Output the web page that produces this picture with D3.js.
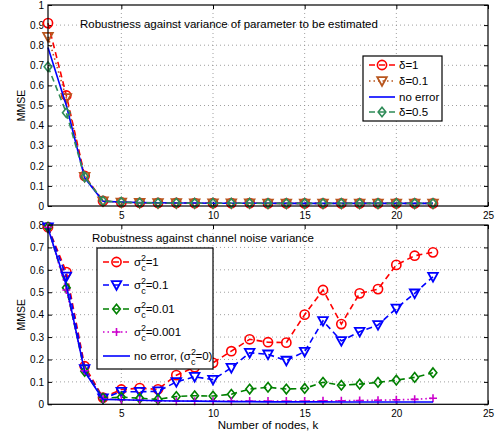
<!DOCTYPE html>
<html>
<head>
<meta charset="utf-8">
<script src="https://cdn.jsdelivr.net/npm/d3@7"></script>
<style>
  body { margin: 0; background: #fff; }
  svg { font-family: "Liberation Sans", Arial, sans-serif; }
</style>
</head>
<body>
<svg width="497" height="434"></svg>
<script>
// number of nodes
const nodes = [1, 2, 3, 4, 5, 6, 7, 8, 9, 10, 11, 12, 13, 14, 15, 16, 17, 18, 19, 20, 21, 22];
const xTicks = [5, 10, 15, 20, 25];

// top panel: robustness against variance of parameter
const delta1 = [0.91, 0.55, 0.15, 0.025, 0.018, 0.016, 0.015, 0.015, 0.014, 0.014, 0.014, 0.014, 0.013, 0.013, 0.013, 0.013, 0.013, 0.013, 0.013, 0.013, 0.013, 0.013];
const delta01 = [0.842, 0.537, 0.146, 0.024, 0.018, 0.016, 0.015, 0.015, 0.014, 0.014, 0.014, 0.014, 0.013, 0.013, 0.013, 0.013, 0.013, 0.013, 0.013, 0.013, 0.013, 0.013];
const noErrTop = [0.788, 0.50, 0.14, 0.024, 0.02, 0.017, 0.016, 0.015, 0.015, 0.014, 0.014, 0.014, 0.014, 0.013, 0.013, 0.013, 0.013, 0.013, 0.013, 0.013, 0.013, 0.013];
const delta05 = [0.693, 0.464, 0.145, 0.025, 0.019, 0.016, 0.015, 0.015, 0.014, 0.014, 0.014, 0.014, 0.013, 0.013, 0.013, 0.013, 0.013, 0.013, 0.013, 0.013, 0.013, 0.013];
const yTicksTop = [0, 0.1, 0.2, 0.3, 0.4, 0.5, 0.6, 0.7, 0.8, 0.9, 1];

// bottom panel: robustness against channel noise variance
const sig1 = [0.79, 0.59, 0.17, 0.03, 0.066, 0.072, 0.067, 0.13, 0.165, 0.185, 0.237, 0.29, 0.277, 0.275, 0.40, 0.51, 0.358, 0.495, 0.514, 0.622, 0.663, 0.678];
const sig01 = [0.79, 0.57, 0.157, 0.027, 0.056, 0.056, 0.058, 0.10, 0.123, 0.11, 0.163, 0.23, 0.223, 0.195, 0.235, 0.372, 0.283, 0.324, 0.354, 0.428, 0.495, 0.569];
const sig001 = [0.79, 0.52, 0.147, 0.027, 0.032, 0.027, 0.022, 0.035, 0.038, 0.037, 0.045, 0.068, 0.076, 0.068, 0.071, 0.098, 0.085, 0.09, 0.098, 0.108, 0.12, 0.141];
const sig0001 = [0.79, 0.51, 0.15, 0.025, 0.02, 0.018, 0.015, 0.014, 0.014, 0.014, 0.014, 0.015, 0.015, 0.015, 0.015, 0.016, 0.016, 0.017, 0.018, 0.02, 0.022, 0.027];
const noErrBot = [0.785, 0.53, 0.145, 0.022, 0.02, 0.018, 0.016, 0.015, 0.014, 0.013, 0.012, 0.012, 0.011, 0.011, 0.011, 0.011, 0.01, 0.01, 0.01, 0.01, 0.01, 0.01];
const yTicksBot = [0, 0.1, 0.2, 0.3, 0.4, 0.5, 0.6, 0.7, 0.8];

const svg = d3.select("svg");
const left = 48, right = 488;

const dashes = { dash: "6,4", dot: "1.5,3", solid: null };

function marker(g, type, color, cx, cy) {
  if (type === "circle") {
    g.append("circle").attr("cx", cx).attr("cy", cy).attr("r", 4.6)
      .attr("fill", "none").attr("stroke", color).attr("stroke-width", 1.6);
  } else if (type === "tri") {
    const s = 4.8;
    g.append("path").attr("d", `M${cx - s},${cy - s * 0.8}L${cx + s},${cy - s * 0.8}L${cx},${cy + s}Z`)
      .attr("fill", "none").attr("stroke", color).attr("stroke-width", 1.8);
  } else if (type === "diamond") {
    const s = 4.8;
    g.append("path").attr("d", `M${cx},${cy - s}L${cx + s * 0.8},${cy}L${cx},${cy + s}L${cx - s * 0.8},${cy}Z`)
      .attr("fill", "none").attr("stroke", color).attr("stroke-width", 1.6);
  } else if (type === "plus") {
    const s = 4;
    g.append("path").attr("d", `M${cx - s},${cy}H${cx + s}M${cx},${cy - s}V${cy + s}`)
      .attr("stroke", color).attr("stroke-width", 1.6);
  }
}

function drawPanel(p) {
  const x = d3.scaleLinear().domain([1, 25]).range([left, right]);
  const y = d3.scaleLinear().domain([0, p.yMax]).range([p.bottom, p.top]);
  const g = svg.append("g");

  // dotted grid
  g.append("g").selectAll("line").data(xTicks.slice(0, -1)).join("line")
    .attr("x1", d => x(d)).attr("x2", d => x(d)).attr("y1", p.top).attr("y2", p.bottom)
    .attr("stroke", "#888").attr("stroke-dasharray", "1,3").attr("stroke-width", 0.8);
  g.append("g").selectAll("line").data(p.yTicks.slice(1, -1)).join("line")
    .attr("x1", left).attr("x2", right).attr("y1", d => y(d)).attr("y2", d => y(d))
    .attr("stroke", "#888").attr("stroke-dasharray", "1,3").attr("stroke-width", 0.8);

  // axes with inward ticks
  const xAx = d3.axisBottom(x).tickValues(xTicks).tickSize(-4).tickPadding(6).tickFormat(d3.format("d"));
  const yAx = d3.axisLeft(y).tickValues(p.yTicks).tickSize(-4).tickPadding(4).tickFormat(d => d === 0 || d === 1 ? String(d) : d3.format(".1f")(d));
  g.append("g").attr("transform", `translate(0,${p.bottom})`).call(xAx);
  g.append("g").attr("transform", `translate(${left},0)`).call(yAx);
  g.append("g").attr("transform", `translate(0,${p.top})`).call(d3.axisTop(x).tickValues(xTicks).tickSize(-4).tickFormat(""));
  g.append("g").attr("transform", `translate(${right},0)`).call(d3.axisRight(y).tickValues(p.yTicks).tickSize(-4).tickFormat(""));
  g.selectAll(".domain").remove();
  g.selectAll(".tick text").attr("font-size", 10).attr("fill", "#000")
    .attr("font-family", "'Liberation Sans', Arial, sans-serif");
  g.selectAll(".tick line").attr("stroke", "#000");

  // series
  p.series.forEach(s => {
    const line = d3.line().x((d, i) => x(nodes[i])).y(d => y(d));
    g.append("path").datum(s.values).attr("d", line)
      .attr("fill", "none").attr("stroke", s.color).attr("stroke-width", s.width || 1.6)
      .attr("stroke-dasharray", dashes[s.style]);
    if (s.marker) {
      const mg = g.append("g");
      s.values.forEach((v, i) => marker(mg, s.marker, s.color, x(nodes[i]), y(v)));
    }
  });

  // box
  g.append("rect").attr("x", left).attr("y", p.top).attr("width", right - left).attr("height", p.bottom - p.top)
    .attr("fill", "none").attr("stroke", "#000").attr("stroke-width", 1.2);

  // panel title
  g.append("text").attr("x", p.titleX).attr("y", p.titleY).attr("font-size", 11.5).text(p.title);

  // y label
  g.append("text").attr("transform", `translate(25,${(p.top + p.bottom) / 2}) rotate(-90)`)
    .attr("text-anchor", "middle").attr("font-size", 10.5).text("MMSE");

  // legend
  const L = p.legend;
  const lg = g.append("g");
  lg.append("rect").attr("x", L.x).attr("y", L.y).attr("width", L.w).attr("height", L.h)
    .attr("fill", "#fff").attr("stroke", "#000").attr("stroke-width", 1.2);
  p.series.forEach((s, i) => {
    const cy = L.rows[i];
    lg.append("line").attr("x1", L.x + 6).attr("x2", L.x + L.lineW).attr("y1", cy).attr("y2", cy)
      .attr("stroke", s.color).attr("stroke-width", s.width || 1.6).attr("stroke-dasharray", dashes[s.style]);
    if (s.marker) marker(lg, s.marker, s.color, L.x + 6 + (L.lineW - 6) / 2, cy);
    const t = lg.append("text").attr("x", L.x + L.lineW + 4).attr("y", cy + 4).attr("font-size", 11.5);
    s.label(t);
  });
}

function plain(str) { return t => t.text(str); }
function sigma(rest, pre) {
  return t => {
    if (pre) t.append("tspan").text(pre);
    t.append("tspan").text("σ");
    t.append("tspan").attr("dy", -5).attr("font-size", 9).text("2");
    t.append("tspan").attr("dx", -5).attr("dy", 10).attr("font-size", 9).text("c");
    t.append("tspan").attr("dy", -5).text(rest);
  };
}

drawPanel({
  top: 5, bottom: 206, yMax: 1, yTicks: yTicksTop,
  title: "Robustness against variance of parameter to be estimated", titleX: 80, titleY: 28,
  legend: { x: 363, y: 56, w: 79, h: 65, lineW: 32, rows: [65, 81, 97, 112] },
  series: [
    { values: delta1, color: "#ff0000", style: "dash", marker: "circle", label: plain("δ=1") },
    { values: delta01, color: "#b8561e", style: "dot", marker: "tri", label: plain("δ=0.1") },
    { values: noErrTop, color: "#0000ff", style: "solid", marker: null, label: plain("no error") },
    { values: delta05, color: "#2e8b57", style: "dash", marker: "diamond", label: plain("δ=0.5") }
  ]
});

drawPanel({
  top: 225, bottom: 404.3, yMax: 0.8, yTicks: yTicksBot,
  title: "Robustness against channel noise variance", titleX: 92, titleY: 242,
  legend: { x: 97, y: 248, w: 116, h: 121, lineW: 33, rows: [262, 285, 309, 332, 356] },
  series: [
    { values: sig1, color: "#ff0000", style: "dash", marker: "circle", label: sigma("=1") },
    { values: sig01, color: "#0000ff", style: "dash", marker: "tri", label: sigma("=0.1") },
    { values: sig001, color: "#008000", style: "dash", marker: "diamond", label: sigma("=0.01") },
    { values: sig0001, color: "#cc00cc", style: "dot", marker: "plus", label: sigma("=0.001") },
    { values: noErrBot, color: "#0000ff", style: "solid", marker: null, label: t => {
        t.append("tspan").text("no error, (σ");
        t.append("tspan").attr("dy", -5).attr("font-size", 9).text("2");
        t.append("tspan").attr("dx", -5).attr("dy", 10).attr("font-size", 9).text("c");
        t.append("tspan").attr("dy", -5).text("=0)");
      } }
  ]
});

svg.append("text").attr("x", 268).attr("y", 429).attr("text-anchor", "middle")
  .attr("font-size", 11.5).text("Number of nodes, k");
</script>
</body>
</html>
